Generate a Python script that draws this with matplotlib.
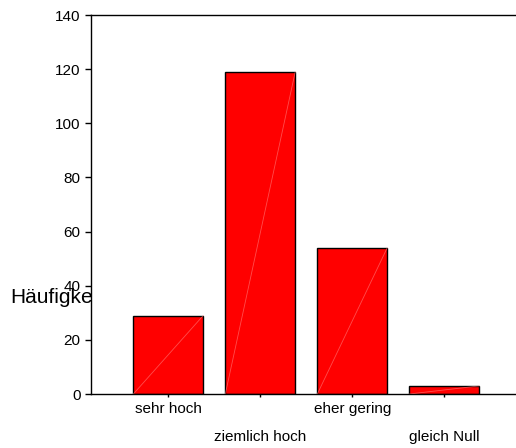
import matplotlib
matplotlib.use("Agg")
import matplotlib.pyplot as plt
import numpy as np

plt.rcParams['font.family'] = ['Liberation Sans', 'DejaVu Sans']

categories = ['sehr hoch', 'ziemlich hoch', 'eher gering', 'gleich Null']
counts = [29, 119, 54, 3]
yticks = [0, 20, 40, 60, 80, 100, 120, 140]

fig = plt.figure(figsize=(5.16, 4.48), dpi=100)
ax = fig.add_axes([0.1764, 0.1205, 0.8236, 0.846])

x = np.arange(len(categories))
w = 0.76
ax.bar(x, counts, width=w, color='#ff0000', edgecolor='black', linewidth=1.0, zorder=2)
# faint diagonal seams inside the bars
for xi, v in zip(x, counts):
    ax.plot([xi - w / 2, xi + w / 2], [0, v], color='#ff8080', lw=0.6, alpha=0.6, zorder=3)

ax.set_xlim(-0.84, 3.78)
ax.set_ylim(0, 140)
ax.set_yticks(yticks)
ax.tick_params(axis='y', labelsize=11, length=4, width=1, pad=3.5, direction='out')
ax.set_xticks(x)
ax.set_xticklabels([])
ax.tick_params(axis='x', length=2, width=1, direction='out')

for i, lab in enumerate(categories):
    yoff = -0.04 if i % 2 == 0 else -0.113
    ax.text(i, yoff, lab, transform=ax.get_xaxis_transform(), ha='center', va='center',
            fontsize=11)

ax.spines['right'].set_visible(False)
for s in ['left', 'top', 'bottom']:
    ax.spines[s].set_linewidth(1.0)

fig.text(0.02, 0.335, 'Häufigkeit', fontsize=15, ha='left', va='center', zorder=-1)

fig.savefig('out.png', dpi=100)
